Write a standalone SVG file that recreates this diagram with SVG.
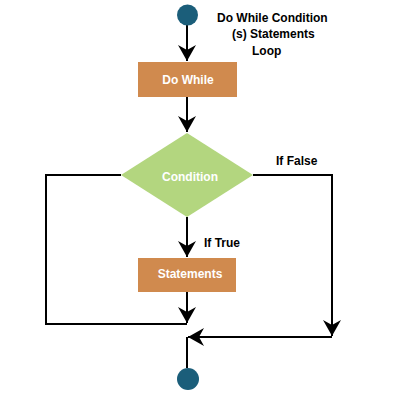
<svg xmlns="http://www.w3.org/2000/svg" width="400" height="400" viewBox="0 0 400 400">
<style>
.ln{fill:none;stroke:#000;stroke-width:2}
.lbl{font-family:"Liberation Sans",Arial,sans-serif;font-weight:bold;font-size:12px;fill:#000}
.wt{font-family:"Liberation Sans",Arial,sans-serif;font-weight:bold;font-size:12px;fill:#fff}
.box{fill:#d08a4e}
.term{fill:#1b5e7a}
</style>
<defs>
<marker id="ah" markerUnits="userSpaceOnUse" markerWidth="20" markerHeight="20" viewBox="-17 -10 18 20" refX="0" refY="0" orient="auto">
<path d="M0,0 L-16,-9 L-11,0 L-16,9 Z" fill="#000"/>
</marker>
</defs>
<rect width="400" height="400" fill="#fff"/>
<g id="connectors">
<path class="ln" d="M187,25 V61" marker-end="url(#ah)"/>
<path class="ln" d="M187,97 V132" marker-end="url(#ah)"/>
<path class="ln" d="M187,217 V257" marker-end="url(#ah)"/>
<path class="ln" d="M187,292 V323" marker-end="url(#ah)"/>
<path class="ln" d="M121,175 H46 V324 H187"/>
<path class="ln" d="M253,175 H332 V336" marker-end="url(#ah)"/>
<path class="ln" d="M332,337 H188" marker-end="url(#ah)"/>
<path class="ln" d="M187,337 V368"/>
</g>
<g id="title">
<text class="lbl" x="217" y="22">Do While Condition</text>
<text class="lbl" x="232" y="38">(s) Statements</text>
<text class="lbl" x="252" y="55">Loop</text>
</g>
<g id="start"><circle class="term" cx="187.5" cy="15" r="10.5"/></g>
<g id="dowhile">
<rect class="box" x="138" y="62" width="99" height="35"/>
<text class="wt" x="188" y="84" text-anchor="middle">Do While</text>
</g>
<g id="condition">
<polygon points="187,133 253,175 187,217 121,175" fill="#b3d67f"/>
<text class="wt" x="190" y="181" text-anchor="middle">Condition</text>
</g>
<g id="statements">
<rect class="box" x="138" y="258" width="98" height="34"/>
<text class="wt" x="190" y="278" text-anchor="middle">Statements</text>
</g>
<g id="labels">
<text class="lbl" x="276" y="165">If False</text>
<text class="lbl" x="204" y="247">If True</text>
</g>
<g id="end"><circle class="term" cx="188" cy="379" r="11"/></g>
</svg>
